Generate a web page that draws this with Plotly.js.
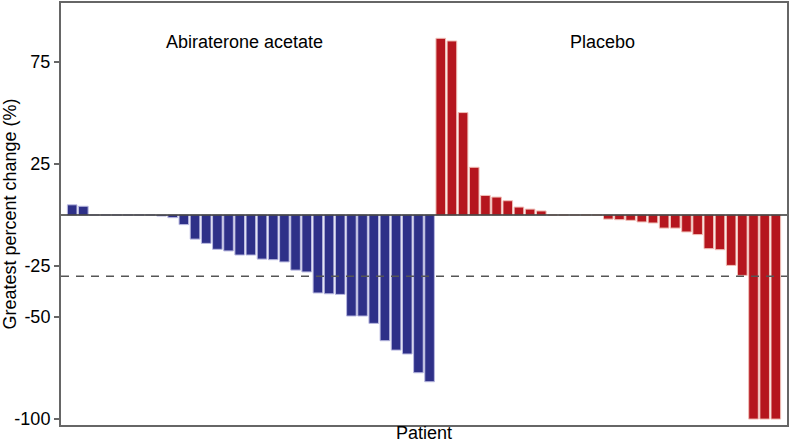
<!DOCTYPE html>
<html>
<head>
<meta charset="utf-8">
<script src="https://cdn.plot.ly/plotly-3.0.1.min.js"></script>
<style>html,body{margin:0;padding:0;background:#fff;}#chart{width:791px;height:447px;}</style>
</head>
<body>
<div id="chart"></div>
<script>
// Patient slots (1..64)
const abiPatients = [1,2,3,4,5,6,7,8,9,10,11,12,13,14,15,16,17,18,19,20,21,22,23,24,25,26,27,28,29,30,31,32,33];
const abiChange = [5.0,4.3,0,0,0,0,0,0,-0.5,-1.3,-4.7,-11.8,-13.9,-16.8,-17.6,-19.6,-19.6,-21.6,-21.9,-23.0,-27.0,-27.9,-38.2,-38.6,-38.9,-49.5,-49.5,-53.1,-61.6,-66.2,-68.1,-77.3,-81.7];
const plaPatients = [34,35,36,37,38,39,40,41,42,43,44,45,46,47,48,49,50,51,52,53,54,55,56,57,58,59,60,61,62,63,64];
const plaChange = [86.6,85.3,50.2,23.4,9.6,8.8,7.0,3.9,2.9,2.0,0,0,0,0,0,-2.0,-2.3,-2.6,-3.4,-3.9,-6.4,-6.4,-8.3,-9.6,-16.5,-17.0,-24.7,-29.6,-100,-100,-100];
const yTicks = [75,25,-25,-50,-100];
const threshold = -30;

const traces = [
  {type:'bar', x:abiPatients, y:abiChange, name:'Abiraterone acetate',
   marker:{color:'#2e3088', line:{color:'#b9b9e0', width:1}}},
  {type:'bar', x:plaPatients, y:plaChange, name:'Placebo',
   marker:{color:'#b5161e', line:{color:'#f0c0b8', width:1}}}
];

const layout = {
  width:791, height:447,
  margin:{l:61, r:4, t:3, b:22},
  paper_bgcolor:'#fff', plot_bgcolor:'#fff',
  showlegend:false,
  bargap:0.14,
  font:{family:'Liberation Sans, Arial, sans-serif', size:18, color:'#000'},
  xaxis:{range:[0,65], showticklabels:false, ticks:'', showgrid:false, zeroline:false,
    showline:true, mirror:true, linecolor:'#666', linewidth:2,
    title:{text:'Patient', standoff:0, font:{size:18}}},
  yaxis:{range:[-102.9,103.9], tickvals:yTicks, ticktext:yTicks.map(String), ticks:'outside', ticklen:5,
    tickcolor:'#666', tickwidth:1.5, showgrid:false, zeroline:false,
    showline:true, mirror:true, linecolor:'#666', linewidth:2,
    tickfont:{size:18},
    title:{text:'Greatest percent change (%)', standoff:2, font:{size:18}}},
  shapes:[
    {type:'line', xref:'paper', x0:0, x1:1, yref:'y', y0:0, y1:0, line:{color:'#333', width:1.5}},
    {type:'line', xref:'paper', x0:0, x1:1, yref:'y', y0:threshold, y1:threshold, line:{color:'#555', width:1.5, dash:'8px,7px'}}
  ],
  annotations:[
    {text:'Abiraterone acetate', xref:'x', x:16.4, yref:'paper', y:0.935, showarrow:false, font:{size:18}},
    {text:'Placebo', xref:'x', x:48.5, yref:'paper', y:0.935, showarrow:false, font:{size:18}}
  ]
};

Plotly.newPlot('chart', traces, layout, {displayModeBar:false, staticPlot:true});
</script>
</body>
</html>
